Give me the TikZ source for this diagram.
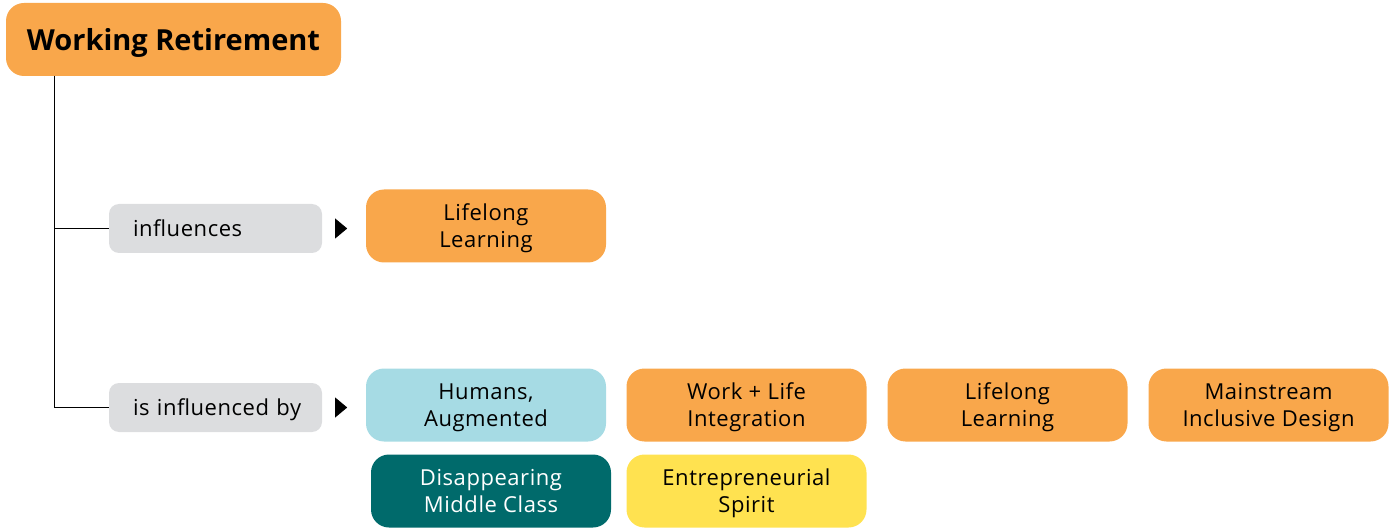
\documentclass[tikz,border=0pt]{standalone}
\usepackage{fontspec}
\setmainfont{Open Sans}
\usepackage{xcolor}
\definecolor{TrendOrange}{RGB}{249,167,75}
\definecolor{TrendBlue}{RGB}{166,219,228}
\definecolor{TrendTeal}{RGB}{0,106,107}
\definecolor{TrendYellow}{RGB}{255,226,80}
\definecolor{LinkGray}{RGB}{220,221,223}
\newcommand{\boxfont}{\addfontfeature{LetterSpace=2.5}\fontsize{22}{27}\selectfont}
\tikzset{
	trend/.style={rounded corners=18pt, minimum width=240pt, minimum height=73pt,
		align=center, inner sep=0pt, text depth=0pt, font=\boxfont},
	link/.style={fill=LinkGray, rounded corners=10pt, minimum width=213pt, minimum height=49pt,
		text width=181pt, align=left, inner sep=0pt, text depth=0pt, font=\boxfont,
		execute at begin node={\hspace*{8pt}}},
	marker/.style={fill=black}
}

\begin{document}
\begin{tikzpicture}[x=1pt,y=-1pt]
		\useasboundingbox (0,0) rectangle (1392,529);
		\node[trend, fill=TrendOrange, minimum width=335pt, font=\bfseries\fontsize{29}{34}\selectfont] (root) at (173.5,39.5) {Working Retirement};
		\node[link] (infl) at (215.5,228.5) {influences};
		\node[link] (inflby) at (215.5,407.5) {is influenced by};
		\coordinate (spine) at (54,76);
		\draw[thick] (spine) |- (infl.west);
		\draw[thick] (spine) |- (inflby.west);
		\fill[marker] ([xshift=13pt,yshift=-10pt]infl.east) -- ([xshift=25pt]infl.east) -- ([xshift=13pt,yshift=10pt]infl.east) -- cycle;
		\fill[marker] ([xshift=13pt,yshift=-10pt]inflby.east) -- ([xshift=25pt]inflby.east) -- ([xshift=13pt,yshift=10pt]inflby.east) -- cycle;
		\node[trend, fill=TrendOrange] (learn) at (486,226) {Lifelong\\Learning};
		\node[trend, fill=TrendBlue] (humans) at (486,405) {Humans,\\Augmented};
		\node[trend, fill=TrendOrange] (worklife) at (746.5,405) {Work + Life\\Integration};
		\node[trend, fill=TrendOrange] (learnb) at (1007.5,405) {Lifelong\\Learning};
		\node[trend, fill=TrendOrange] (design) at (1268.5,405) {Mainstream\\Inclusive Design};
		\node[trend, fill=TrendTeal, text=white] (middle) at (491,491) {Disappearing\\Middle Class};
		\node[trend, fill=TrendYellow] (spirit) at (746.5,491) {Entrepreneurial\\Spirit};
	\end{tikzpicture}
\end{document}
